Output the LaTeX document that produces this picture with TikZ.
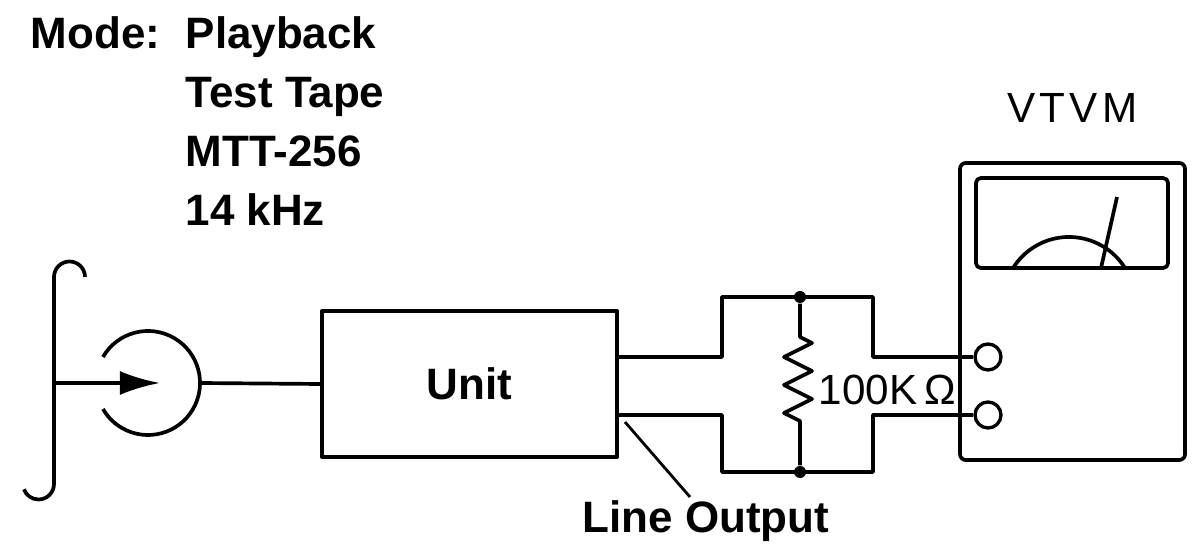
\documentclass[tikz,border=0pt]{standalone}
\usepackage{fontspec}
\setmainfont{Liberation Sans}
\newfontfamily\meterfont[LetterSpace=10]{Liberation Sans}
\usetikzlibrary{positioning, arrows.meta}

\tikzset{
	wire/.style={line width=1.05pt},
	lbl/.style={font=\bfseries\fontsize{12.5}{15}\selectfont, inner sep=0pt},
	thinlbl/.style={font=\fontsize{12}{14}\selectfont, inner sep=0pt},
	dot/.style={circle, fill=black, inner sep=0pt, minimum size=1.2mm},
	jack/.style={circle, draw, line width=0.95pt, inner sep=0pt, minimum size=2.6mm},
}

\begin{document}
\begin{tikzpicture}[x=0.01cm, y=0.01cm, line join=round]
					\useasboundingbox (0,0) rectangle (1195,546);

					% settings
					\node[lbl, anchor=base west] (mode) at (30,497) {Mode:};
					\node[lbl, anchor=base west] (play) at (185,497) {Playback};
					\node[lbl, anchor=base west] (testtape) at (185,438) {Test Tape};
					\node[lbl, anchor=base west] (mtt) at (185,379) {MTT-256};
					\node[lbl, anchor=base west] (khz) at (185,320) {14 kHz};

					% tape and head
					\draw[wire] (85,269) arc (0:180:15.5) -- (54,62) arc (0:-160:15.5);
					\coordinate (tape) at (54,163);
					\coordinate (gap) at (160,163);
					\coordinate (head) at (148,163);
					\coordinate (headout) at (200,163);
					\draw[wire, -{Latex[length=4mm, width=2.4mm]}] (tape) -- (gap);
					\draw[wire] (head) ++(150:52) arc (150:-150:52);

					\node[draw, wire, lbl, minimum width=2.95cm, minimum height=1.46cm] (unit) at (469.5,162) {Unit};
					\draw[wire] (headout) -- (unit.west);

					% load resistor
					\coordinate (outA) at (617,189);
					\coordinate (outB) at (617,131);
					\coordinate (topL) at (722,249);
					\coordinate (topR) at (873,249);
					\coordinate (botL) at (722,74);
					\coordinate (botR) at (873,74);
					\node[dot] (rtop) at (800,249) {};
					\node[dot] (rbot) at (800,74) {};

					% VTVM
					\node[draw, wire, rounded corners=0.6mm,
						minimum width=2.25cm,
						minimum height=2.97cm
					] (vtvm) at (1072.5,234.5) {};
					\node[thinlbl, font=\meterfont\fontsize{12}{14}\selectfont, above=0.38cm of vtvm] (vtvmlbl) {VTVM};
					\node[draw, wire, rounded corners=0.5mm,
						minimum width=1.92cm,
						minimum height=0.9cm
					] (window) at (1072,323) {};
					\draw[wire] (1069,243) ++(32:66) arc (32:148:66);
					\coordinate (pivot) at (1101,278);
					\coordinate (tip) at (1117,349);
					\draw[wire] (pivot) -- (tip);
					\node[jack] (jackA) at (988,189) {};
					\node[jack] (jackB) at (988,131) {};

					\draw[wire] (outA) -| (topL) -- (topR) |- (jackA.west);
					\draw[wire] (outB) -| (botL) -- (botR) |- (jackB.west);
					\draw[wire] (rtop) -- (800,209) -- (812,203) -- (784,189) -- (812,175) -- (784,161) -- (812,147) -- (784,133) -- (800,125) -- (rbot);
					\node[thinlbl, anchor=west] (rlbl) at (818,156) {100K\,Ω};

					% line output
					\node[lbl] (lineout) at (706,25) {Line Output};
					\coordinate (tap) at (625,124);
					\coordinate (tapend) at (690,49);
					\draw[line width=0.8pt] (tap) -- (tapend);
				\end{tikzpicture}
\end{document}
